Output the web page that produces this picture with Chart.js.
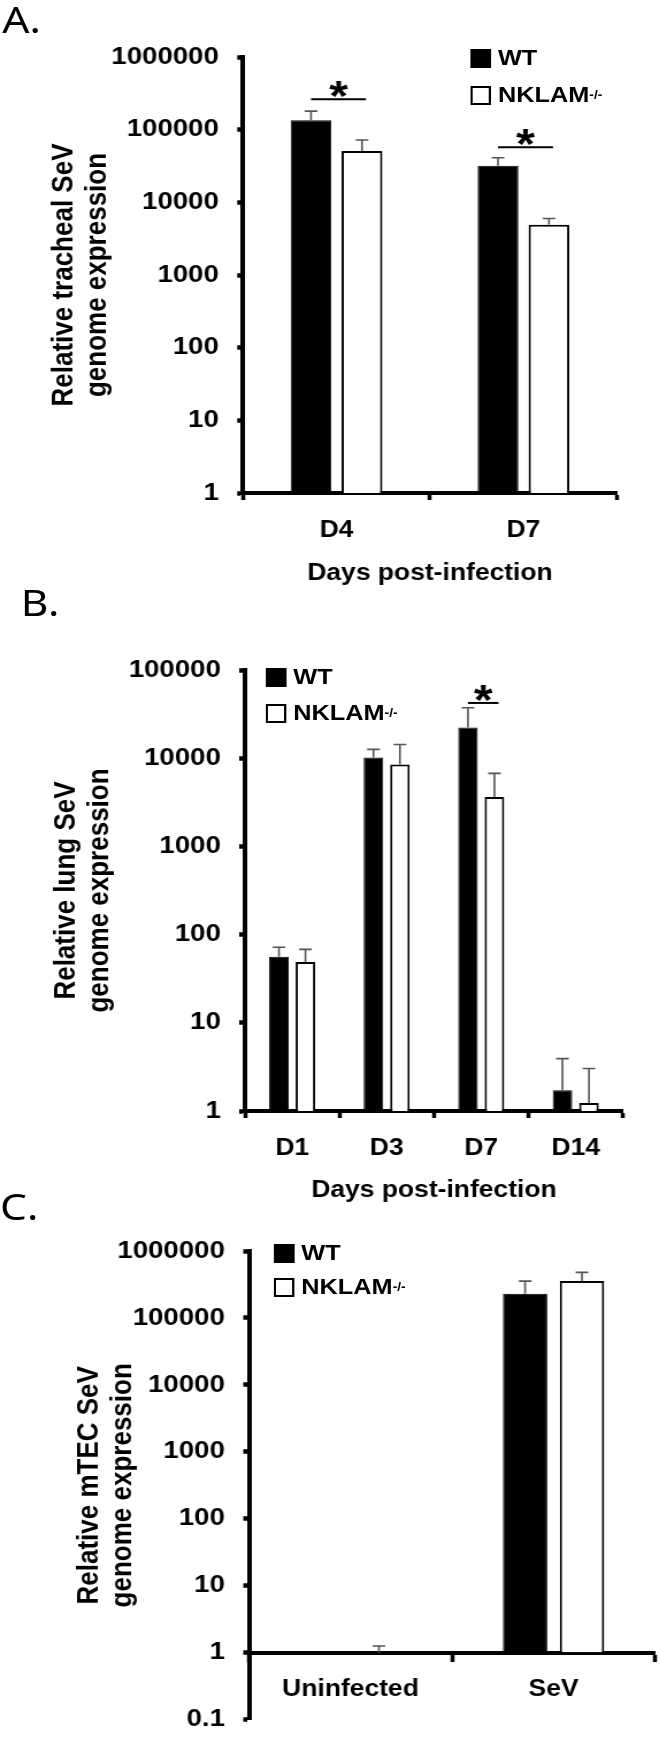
<!DOCTYPE html>
<html lang="en">
<head>
<meta charset="UTF-8">
<title>SeV genome expression</title>
<script src="https://cdn.jsdelivr.net/npm/chart.js"></script>
<style>
  body { margin: 0; background: #fff; overflow: hidden; }
  /* the source figure is stretched sideways, so the whole page is too */
  #page {
    position: relative; width: 574px; height: 1746px;
    transform: scaleX(1.15); transform-origin: 0 0;
    font-family: 'Liberation Sans', Arial, sans-serif;
  }
  .panel { position: absolute; left: 0; }
  .letter { position: absolute; font-family: 'Noto Sans', sans-serif; font-size: 37px; line-height: 37px; }
  .legend { position: absolute; display: flex; flex-direction: column; font-weight: bold; font-size: 22px; }
  .legend .item { display: flex; align-items: center; height: 18px; }
  .swatch { width: 18px; height: 19px; box-sizing: border-box; margin-right: 6px; border: 2px solid #000; }
  .swatch.wt { background: #000; }
  .swatch.nk { background: #fff; }
  .legend sup { font-size: 12px; vertical-align: 8px; }
</style>
</head>
<body>
<div id="page">
  <div class="letter" style="left:2px; top:0px;">A.</div>
  <div class="letter" style="left:18px; top:583px;">B.</div>
  <div class="letter" style="left:0px; top:1187px;">C.</div>

  <canvas id="chartA" class="panel" style="top:0px;" width="574" height="600"></canvas>
  <canvas id="chartB" class="panel" style="top:560px;" width="574" height="660"></canvas>
  <canvas id="chartC" class="panel" style="top:1180px;" width="574" height="570"></canvas>

  <div class="legend" style="left:409px; top:49px; gap:19px;">
    <div class="item"><span class="swatch wt"></span>WT</div>
    <div class="item"><span class="swatch nk"></span>NKLAM<sup>-/-</sup></div>
  </div>
  <div class="legend" style="left:231px; top:668px; gap:18px;">
    <div class="item"><span class="swatch wt"></span>WT</div>
    <div class="item"><span class="swatch nk"></span>NKLAM<sup>-/-</sup></div>
  </div>
  <div class="legend" style="left:238px; top:1244px; gap:16px;">
    <div class="item"><span class="swatch wt"></span>WT</div>
    <div class="item"><span class="swatch nk"></span>NKLAM<sup>-/-</sup></div>
  </div>
</div>

<script>
// A. tracheal SeV genome
const aDays = ['D4', 'D7'];
const aWT = [135000, 32000];
const aWTErr = [45000, 9000];
const aNK = [51000, 4900];
const aNKErr = [21000, 1100];
const aSigIndex = [0, 1];
const aSigLevel = [263000, 57500];
const aTicks = [1, 10, 100, 1000, 10000, 100000, 1000000];

// B. lung SeV genome
const bDays = ['D1', 'D3', 'D7', 'D14'];
const bWT = [56, 10200, 22300, 1.72];
const bWTErr = [16, 2400, 15000, 2.2];
const bNK = [49, 8500, 3630, 1.23];
const bNKErr = [19, 5800, 3100, 1.8];
const bSigIndex = [2];
const bSigLevel = [42300];
const bTicks = [1, 10, 100, 1000, 10000, 100000];

// C. mTEC SeV genome
const cGroups = ['Uninfected', 'SeV'];
const cWT = [1, 230000];
const cWTErr = [0, 125000];
const cNK = [1, 355000];
const cNKErr = [0.26, 125000];
const cTicks = [0.1, 1, 10, 100, 1000, 10000, 100000, 1000000];

Chart.defaults.font.family = "'Liberation Sans', Arial, sans-serif";
Chart.defaults.font.weight = 'bold';
Chart.defaults.color = '#000';

// upper error bars on each bar
const errorBars = {
  id: 'errorBars',
  afterDatasetsDraw(chart, args, opts) {
    const ctx = chart.ctx, y = chart.scales.y;
    ctx.save();
    ctx.strokeStyle = '#555';
    ctx.lineWidth = 1.6;
    chart.data.datasets.forEach((ds, d) => {
      const errs = opts.errors[d];
      chart.getDatasetMeta(d).data.forEach((bar, i) => {
        if (!errs[i]) return;
        const y0 = y.getPixelForValue(ds.data[i]);
        const y1 = y.getPixelForValue(ds.data[i] + errs[i]);
        ctx.beginPath();
        ctx.moveTo(bar.x, y0);
        ctx.lineTo(bar.x, y1);
        ctx.moveTo(bar.x - 5.5, y1);
        ctx.lineTo(bar.x + 5.5, y1);
        ctx.stroke();
      });
    });
    ctx.restore();
  }
};

// significance line + asterisk over a WT/NKLAM pair
const sigMarks = {
  id: 'sigMarks',
  afterDatasetsDraw(chart, args, opts) {
    if (!opts.index) return;
    const ctx = chart.ctx, y = chart.scales.y;
    const wt = chart.getDatasetMeta(0).data, nk = chart.getDatasetMeta(1).data;
    ctx.save();
    ctx.strokeStyle = '#000';
    ctx.lineWidth = 2;
    ctx.fillStyle = '#000';
    ctx.font = "bold 42px 'Liberation Sans', Arial, sans-serif";
    ctx.textAlign = 'center';
    ctx.textBaseline = 'alphabetic';
    opts.index.forEach((idx, k) => {
      const x0 = wt[idx].x, x1 = nk[idx].x + 3.5;
      const yy = y.getPixelForValue(opts.level[k]);
      ctx.beginPath();
      ctx.moveTo(x0, yy);
      ctx.lineTo(x1, yy);
      ctx.stroke();
      ctx.fillText('*', (x0 + x1) / 2, yy + 11);
    });
    ctx.restore();
  }
};

function makeChart(id, c) {
  return new Chart(document.getElementById(id), {
    type: 'bar',
    data: {
      labels: c.labels,
      datasets: [
        { label: 'WT', data: c.wt, backgroundColor: '#000', borderColor: '#000', borderWidth: 1,
          base: c.base, categoryPercentage: c.catPct, barPercentage: c.barPct },
        { label: 'NKLAM-/-', data: c.nk, backgroundColor: '#fff', borderColor: '#000', borderWidth: 2,
          base: c.base, categoryPercentage: c.catPct, barPercentage: c.barPct }
      ]
    },
    options: {
      responsive: false,
      animation: false,
      layout: { padding: c.pad },
      plugins: {
        legend: { display: false },
        tooltip: { enabled: false },
        errorBars: { errors: c.errors },
        sigMarks: { index: c.sigIndex, level: c.sigLevel }
      },
      scales: {
        x: {
          position: c.xPos,
          grid: { drawOnChartArea: false, tickLength: 7, tickWidth: 3.5, tickColor: '#000' },
          border: { color: '#000', width: 4 },
          ticks: { font: { size: 23 }, padding: c.xTickPad, maxRotation: 0 },
          title: c.xTitle ? { display: true, text: c.xTitle, font: { size: 23 },
                              padding: { top: 0, bottom: c.xTitlePad } } : { display: false },
          afterFit: s => { if (c.xHeight) s.height = c.xHeight; }
        },
        y: {
          type: 'logarithmic',
          min: c.ticks[0],
          max: c.ticks[c.ticks.length - 1],
          afterBuildTicks: s => { s.ticks = c.ticks.map(v => ({ value: v })); },
          grid: { drawOnChartArea: false, tickLength: 5, tickWidth: 4.5, tickColor: '#000' },
          border: { color: '#000', width: 4 },
          ticks: { font: { size: 24 }, padding: 16, callback: v => String(v) },
          title: { display: true, text: c.yTitle, font: { size: 26, lineHeight: 1.1 },
                   padding: { top: c.yTitlePad, bottom: 0 } },
          afterFit: s => { s.width = c.yWidth; }
        }
      }
    },
    plugins: [errorBars, sigMarks]
  });
}

makeChart('chartA', {
  labels: aDays, wt: aWT, nk: aNK, errors: [aWTErr, aNKErr],
  sigIndex: aSigIndex, sigLevel: aSigLevel, ticks: aTicks,
  catPct: 0.545, barPct: 0.8,
  pad: { left: 0, top: 57, right: 37.5, bottom: 0 },
  xPos: 'bottom', xHeight: 107, xTickPad: 17,
  xTitle: 'Days post-infection', xTitlePad: 13,
  yTitle: ['Relative tracheal SeV', 'genome expression'], yTitlePad: 42, yWidth: 211.3
});

makeChart('chartB', {
  labels: bDays, wt: bWT, nk: bNK, errors: [bWTErr, bNKErr],
  sigIndex: bSigIndex, sigLevel: bSigLevel, ticks: bTicks,
  catPct: 0.56, barPct: 0.74,
  pad: { left: 0, top: 110, right: 32.3, bottom: 0 },
  xPos: 'bottom', xHeight: 109, xTickPad: 17,
  xTitle: 'Days post-infection', xTitlePad: 16,
  yTitle: ['Relative lung SeV', 'genome expression'], yTitlePad: 44, yWidth: 213
});

makeChart('chartC', {
  labels: cGroups, wt: cWT, nk: cNK, errors: [cWTErr, cNKErr],
  sigIndex: null, sigLevel: null, ticks: cTicks, base: 1,
  catPct: 0.56, barPct: 0.78,
  pad: { left: 0, top: 71, right: 4.4, bottom: 15 },
  xPos: { y: 1 }, xHeight: 0, xTickPad: 16,
  xTitle: null, xTitlePad: 0,
  yTitle: ['Relative mTEC SeV', 'genome expression'], yTitlePad: 64, yWidth: 216.5
});
</script>
</body>
</html>
